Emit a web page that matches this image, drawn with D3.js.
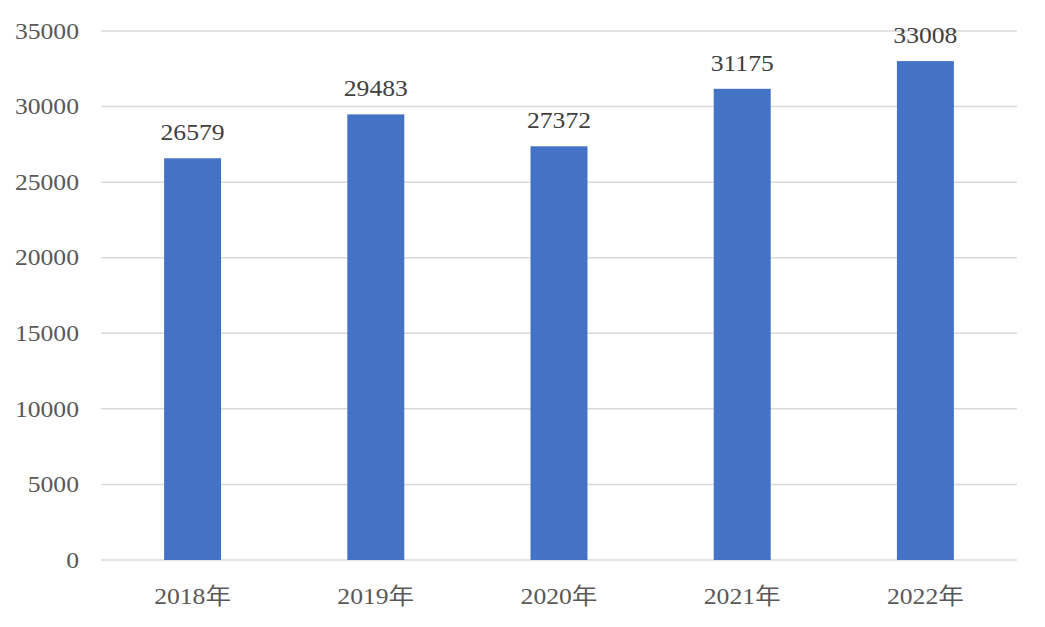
<!DOCTYPE html>
<html><head><meta charset="utf-8">
<script src="https://cdn.jsdelivr.net/npm/d3@7/dist/d3.min.js"></script>
<style>
html,body{margin:0;padding:0;background:#fff;}
svg text{font-family:"Liberation Serif","Times New Roman","Noto Sans CJK SC",serif;}
</style></head>
<body><svg id="c" width="1045" height="627"></svg>
<script>
const categories = ["2018年","2019年","2020年","2021年","2022年"];
const values = [26579, 29483, 27372, 31175, 33008];
const yTicks = [0,5000,10000,15000,20000,25000,30000,35000];

const svg = d3.select("#c");
const m = {left:101, right:1017, top:31, bottom:560};
const sx = 1.14, fs = 22.5;
const x = d3.scaleBand().domain(categories).range([m.left, m.right]).paddingInner(0.689).paddingOuter(0.3445);
const y = d3.scaleLinear().domain([0,35000]).range([m.bottom, m.top]);

svg.append("g").selectAll("line").data(yTicks).join("line")
  .attr("x1", m.left).attr("x2", m.right)
  .attr("y1", d=>y(d)).attr("y2", d=>y(d))
  .attr("stroke", "#d9d9d9").attr("stroke-width", 1.5);

svg.append("g").selectAll("text").data(yTicks).join("text")
  .attr("transform", d=>`translate(79,${y(d)}) scale(${sx},1)`).attr("dy","0.34em")
  .attr("text-anchor","end").attr("font-size", fs).attr("fill","#595959")
  .text(d=>d);

svg.append("g").selectAll("rect").data(values).join("rect")
  .attr("x", (d,i)=>x(categories[i])).attr("width", x.bandwidth())
  .attr("y", d=>y(d)).attr("height", d=>y(0)-y(d))
  .attr("fill", "#4472c4");

svg.append("g").selectAll("text").data(values).join("text")
  .attr("transform", (d,i)=>`translate(${x(categories[i])+x.bandwidth()/2},${y(d)-18}) scale(${sx},1)`)
  .attr("text-anchor","middle").attr("font-size", fs).attr("fill","#404040")
  .text(d=>d);

svg.append("g").selectAll("text").data(categories).join("text")
  .attr("transform", d=>`translate(${x(d)+x.bandwidth()/2},604) scale(${sx},1)`)
  .attr("text-anchor","middle").attr("font-size", fs).attr("fill","#595959")
  .text(d=>d);
</script></body></html>
